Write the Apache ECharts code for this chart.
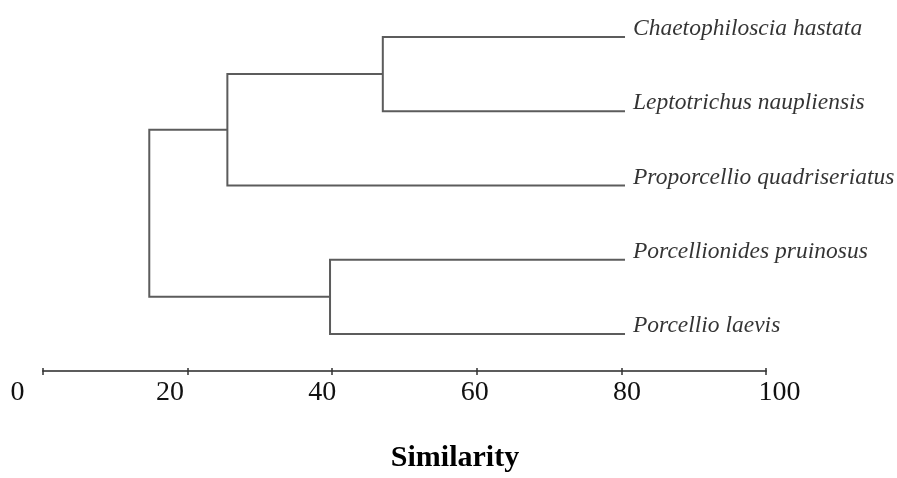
<!DOCTYPE html>
<html>
<head>
<meta charset="utf-8">
<script src="https://cdn.jsdelivr.net/npm/echarts@6/dist/echarts.min.js"></script>
<style>html,body{margin:0;padding:0;background:#fff;}#c{width:897px;height:478px;}</style>
</head>
<body>
<div id="c"></div>
<script>
// Data
const leaves = ['Chaetophiloscia hastata', 'Leptotrichus naupliensis', 'Proporcellio quadriseriatus', 'Porcellionides pruinosus', 'Porcellio laevis'];
const leafSimilarity = 80.5;
// merges: [childA, childB, similarity]; children are leaf indices or 'n'+mergeIndex
const mergeA = [0, 'n0', 3, 'n1'];
const mergeB = [1, 2, 4, 'n2'];
const mergeSimilarity = [47.0, 25.5, 39.7, 14.7];
const xTicks = [0, 20, 40, 60, 80, 100];
const axisTitle = 'Similarity';

// Build dendrogram geometry from data
const nodePos = {};
leaves.forEach((n, i) => { nodePos[i] = [leafSimilarity, i]; });
const links = [];
mergeSimilarity.forEach((h, k) => {
  const a = nodePos[mergeA[k]], b = nodePos[mergeB[k]];
  links.push({ coords: [[a[0], a[1]], [h, a[1]], [h, b[1]], [b[0], b[1]]] });
  nodePos['n' + k] = [h, (a[1] + b[1]) / 2];
});

const lineColor = '#5c5c5c';
const chart = echarts.init(document.getElementById('c'), null, { renderer: 'canvas' });
chart.setOption({
  animation: false,
  backgroundColor: '#ffffff',
  title: {
    text: axisTitle,
    left: 450, top: 438, textAlign: 'center',
    textStyle: { fontFamily: 'Liberation Serif', fontWeight: 'bold', fontSize: 30, color: '#000' }
  },
  grid: [
    { left: 43, right: 131, top: 37, bottom: 107 },
    { left: 17.5, right: 117.5, top: 37, bottom: 107 }
  ],
  xAxis: [
    { type: 'value', gridIndex: 0, position: 'bottom', min: xTicks[0], max: xTicks[xTicks.length - 1], interval: 20,
      axisLine: { show: true, onZero: false, lineStyle: { color: lineColor, width: 2 } },
      axisTick: { show: true, length: 4, lineStyle: { color: '#333', width: 1.5 } },
      axisLabel: { show: false }, splitLine: { show: false } },
    { type: 'value', gridIndex: 0, position: 'bottom', min: xTicks[0], max: xTicks[xTicks.length - 1], interval: 20,
      axisLine: { show: false, onZero: false },
      axisTick: { show: true, inside: true, length: 3, lineStyle: { color: '#333', width: 1.5 } },
      axisLabel: { show: false }, splitLine: { show: false } },
    { type: 'value', gridIndex: 1, position: 'bottom', min: xTicks[0], max: xTicks[xTicks.length - 1], interval: 20,
      axisLine: { show: false, onZero: false }, axisTick: { show: false }, splitLine: { show: false },
      axisLabel: { show: true, margin: 8, fontFamily: 'Liberation Serif', fontSize: 28, color: '#111' } }
  ],
  yAxis: [
    { type: 'value', gridIndex: 0, inverse: true, min: 0, max: 4.5, show: false },
    { type: 'value', gridIndex: 1, inverse: true, min: 0, max: 4.5, show: false }
  ],
  series: [
    { type: 'lines', coordinateSystem: 'cartesian2d', xAxisIndex: 0, yAxisIndex: 0, polyline: true,
      lineStyle: { color: lineColor, width: 2, opacity: 1 }, data: links },
    { type: 'scatter', xAxisIndex: 0, yAxisIndex: 0, symbolSize: 0,
      data: leaves.map((n, i) => ({ name: n, value: [leafSimilarity, i] })),
      label: { show: true, position: 'right', distance: 8, offset: [0, -8], formatter: p => p.name,
        fontFamily: 'Liberation Serif', fontStyle: 'italic', fontSize: 23.5, color: '#000' } }
  ]
});
</script>
</body>
</html>
